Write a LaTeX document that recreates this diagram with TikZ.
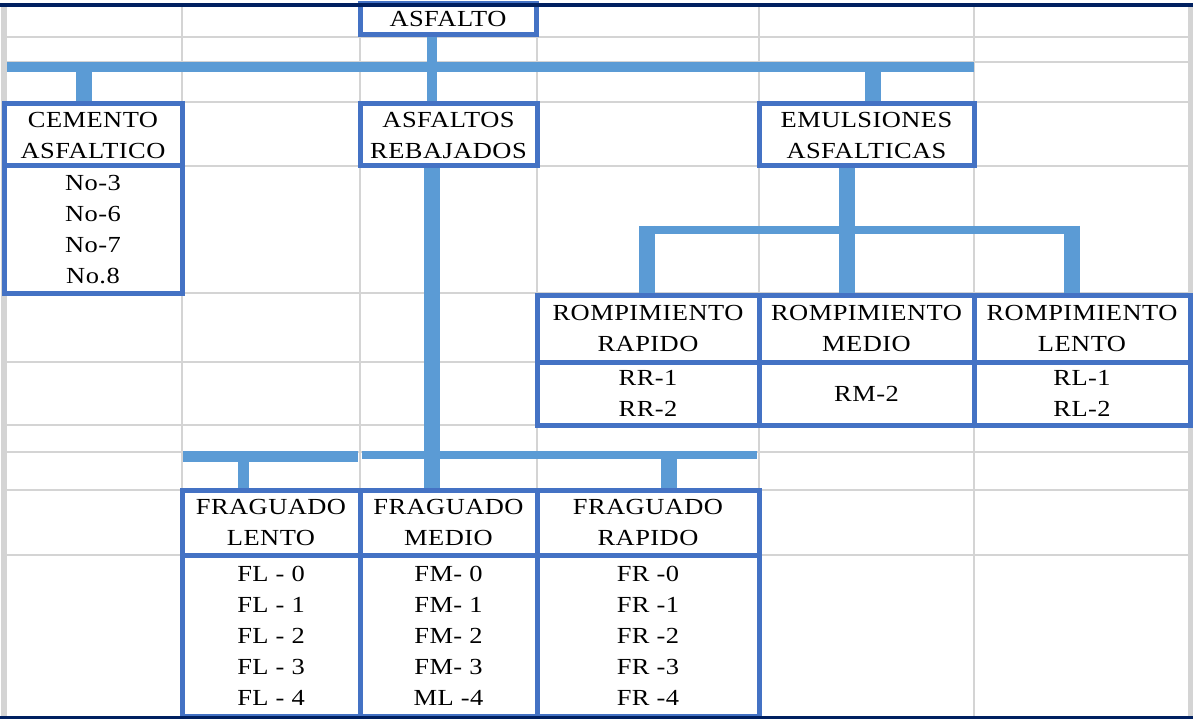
\documentclass[tikz,border=0pt]{standalone}
\usepackage{fontspec}
\setmainfont{Liberation Serif}[FakeStretch=1.15,LetterSpace=2]
\definecolor{boxblue}{HTML}{4472C4}
\definecolor{connblue}{HTML}{5B9BD5}
\definecolor{gridgray}{HTML}{D4D4D4}
\definecolor{navy}{HTML}{002060}
\pgfdeclarelayer{bg}
\pgfdeclarelayer{conn}
\pgfsetlayers{bg,conn,main}
\newcommand{\cellfont}{\fontsize{23}{31}\selectfont}
\tikzset{
  cellbox/.style={draw=boxblue, line width=5pt, fill=white, inner sep=0pt, outer sep=0pt,
    align=center, font=\cellfont, text=black},
  link/.style={draw=connblue, line width=#1},
  gridline/.style={draw=gridgray, line width=2.5pt},
  edgeline/.style={draw=navy, line width=4pt}
}
\begin{document}
\begin{tikzpicture}[x=1pt,y=-1pt]
\useasboundingbox (0,0) rectangle (1193,719);

% boxes
\node[cellbox, minimum width=176pt, minimum height=31pt] (asf) at (448,19.5) {ASFALTO};
\node[cellbox, minimum width=178pt, minimum height=62pt] (cem) at (93,135) {CEMENTO\\ASFALTICO};
\node[cellbox, minimum width=178pt, minimum height=127pt] (cemL) at (93,229.5) {No-3\\No-6\\No-7\\No.8};
\node[cellbox, minimum width=177pt, minimum height=62pt] (reb) at (448.5,135) {ASFALTOS\\REBAJADOS};
\node[cellbox, minimum width=215pt, minimum height=62pt] (emu) at (866.5,135) {EMULSIONES\\ASFALTICAS};

\node[cellbox, minimum width=222pt, minimum height=67pt] (rr) at (648,328.5) {ROMPIMIENTO\\RAPIDO};
\node[cellbox, minimum width=215pt, minimum height=67pt] (rm) at (866.5,328.5) {ROMPIMIENTO\\MEDIO};
\node[cellbox, minimum width=216pt, minimum height=67pt] (rl) at (1082,328.5) {ROMPIMIENTO\\LENTO};
\node[cellbox, minimum width=222pt, minimum height=63pt] (rrL) at (648,393.5) {RR-1\\RR-2};
\node[cellbox, minimum width=215pt, minimum height=63pt] (rmL) at (866.5,393.5) {RM-2};
\node[cellbox, minimum width=216pt, minimum height=63pt] (rlL) at (1082,393.5) {RL-1\\RL-2};

\node[cellbox, minimum width=178pt, minimum height=65pt] (fl) at (271,522.5) {FRAGUADO\\LENTO};
\node[cellbox, minimum width=177pt, minimum height=65pt] (fm) at (448.5,522.5) {FRAGUADO\\MEDIO};
\node[cellbox, minimum width=222pt, minimum height=65pt] (fr) at (648,522.5) {FRAGUADO\\RAPIDO};
\node[cellbox, minimum width=178pt, minimum height=161pt] (flL) at (271,635.5) {FL - 0\\FL - 1\\FL - 2\\FL - 3\\FL - 4};
\node[cellbox, minimum width=177pt, minimum height=161pt] (fmL) at (448.5,635.5) {FM- 0\\FM- 1\\FM- 2\\FM- 3\\ML -4};
\node[cellbox, minimum width=222pt, minimum height=161pt] (frL) at (648,635.5) {FR -0\\FR -1\\FR -2\\FR -3\\FR -4};

% page edges
\draw[edgeline] (0,5) -- (1193,5);
\draw[edgeline] (0,717.5) -- (1193,717.5);

% connectors
\begin{pgfonlayer}{conn}
\coordinate (barL) at (7,67);
\coordinate (barR) at (974,67);
\coordinate (j1) at (432,67);
\coordinate (j2) at (84,67);
\coordinate (j3) at (873,67);
\draw[link=10pt] (barL) -- (barR);
\draw[link=10pt] (j1 |- asf.south) -- (j1 |- reb.north);
\draw[link=16pt] (j2) -- (j2 |- cem.north);
\draw[link=16pt] (j3) -- (j3 |- emu.north);

\coordinate (j5) at (847,226);
\coordinate (eL) at (639,230);
\coordinate (eR) at (1080,230);
\coordinate (d1) at (647,226);
\coordinate (d3) at (1071.5,226);
\draw[link=16pt] (j5 |- emu.south) -- (j5 |- rm.north);
\draw[link=8pt] (eL) -- (eR);
\draw[link=16pt] (d1) -- (d1 |- rr.north);
\draw[link=16pt] (d3) -- (d3 |- rl.north);

\coordinate (j4) at (431.5,456);
\draw[link=16pt] (j4 |- reb.south) -- (j4 |- fm.north);
\coordinate (fL1) at (183,456.5);
\coordinate (fL2) at (358,456.5);
\coordinate (fR1) at (362,455);
\coordinate (fR2) at (757,455);
\draw[link=11pt] (fL1) -- (fL2);
\draw[link=8pt] (fR1) -- (fR2);
\coordinate (k1) at (243.5,456.5);
\coordinate (k3) at (669,455);
\draw[link=11pt] (k1) -- (k1 |- fl.north);
\draw[link=16pt] (k3) -- (k3 |- fr.north);
\end{pgfonlayer}

% spreadsheet grid
\begin{pgfonlayer}{bg}
\fill[white] (0,0) rectangle (1193,719);
\foreach \gx in {182,360,537,759,974} \draw[gridline] (\gx,5) -- (\gx,716);
\foreach \gy in {37,62,102,166,293,362,425,452,490,555} \draw[gridline] (4,\gy) -- (1190,\gy);
\draw[draw=gridgray, line width=6pt] (4,5) -- (4,716);
\draw[draw=gridgray, line width=5pt] (1190.5,5) -- (1190.5,716);
\end{pgfonlayer}
\end{tikzpicture}
\end{document}
